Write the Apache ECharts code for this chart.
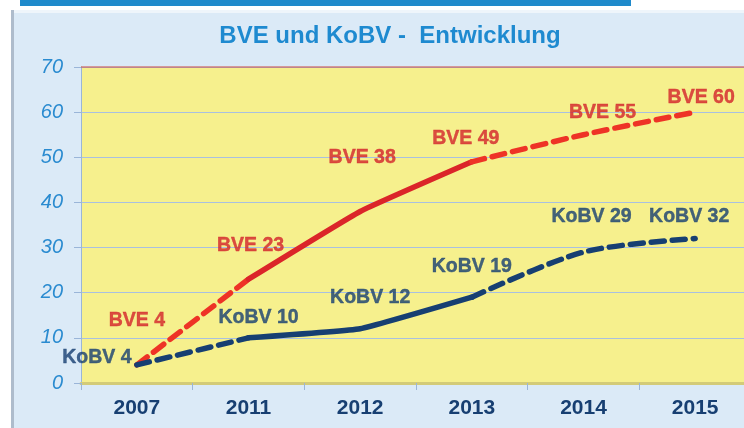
<!DOCTYPE html>
<html>
<head>
<meta charset="utf-8">
<script src="https://cdn.jsdelivr.net/npm/echarts@6/dist/echarts.min.js"></script>
<style>
  html, body { margin: 0; padding: 0; background: #ffffff; overflow: hidden; }
  #chart { width: 751px; height: 428px; }
</style>
</head>
<body>
<div id="chart"></div>
<script>
const years = ['2007', '2011', '2012', '2013', '2014', '2015']
const bveValues = [4, 23, 38, 49, 55, 60]
const kobvValues = [4, 10, 12, 19, 29, 32]
const yTicks = [0, 10, 20, 30, 40, 50, 60, 70]

// where each line is solid (index range), rest is dashed
const solidFrom = 1
const solidTo = 3

// label offsets (style only)
const bveLabelOffsets = [[0, -44], [2, -34], [2, -54], [-6, -23], [19, -22], [6, -15]]
const kobvLabelOffsets = [[-40, -7], [10, -20], [10, -31], [0, -31], [8, -35], [-6, -22]]

const red = '#db2529'
const redDash = '#ee3326'
const blue = '#173f72'

function part(values, from, to) {
  return values.map((v, i) => (i >= from && i <= to ? v : null))
}

function lineParts(name, values, color, dashColor) {
  const base = {
    type: 'line',
    name: name,
    symbol: 'none',
    connectNulls: false,
    z: 3
  }
  return [
    Object.assign({}, base, {
      data: part(values, 0, solidFrom),
      smooth: 0.15,
      lineStyle: { color: dashColor, width: 5.5, type: [13, 8], cap: 'round' }
    }),
    Object.assign({}, base, {
      data: part(values, solidFrom, solidTo),
      smooth: 0.1,
      lineStyle: { color: color, width: 5.5, type: 'solid', cap: 'round', join: 'round' }
    }),
    Object.assign({}, base, {
      data: part(values, solidTo, values.length - 1),
      smooth: 0.3,
      lineStyle: { color: dashColor, width: 5.5, type: [13, 8], cap: 'round' }
    })
  ]
}

function labelSeries(prefix, values, offsets, color) {
  return {
    type: 'scatter',
    symbolSize: 1,
    itemStyle: { color: 'transparent' },
    z: 5,
    data: values.map((v, i) => ({
      value: v,
      label: { offset: offsets[i] }
    })),
    label: {
      show: true,
      position: 'inside',
      align: 'center',
      verticalAlign: 'middle',
      formatter: p => prefix + ' ' + p.value,
      color: color,
      fontFamily: 'Liberation Sans',
      fontWeight: 'bold',
      fontSize: 19.5,
      textBorderColor: color,
      textBorderWidth: 0.4
    }
  }
}

const chart = echarts.init(document.getElementById('chart'))
chart.setOption({
  animation: false,
  backgroundColor: '#ffffff',
  graphic: [
    { type: 'rect', shape: { x: 11, y: 10, width: 745, height: 430 }, style: { fill: '#dbeaf7' }, z: -10 },
    { type: 'rect', shape: { x: 11, y: 10, width: 3, height: 430 }, style: { fill: '#aebccc' }, z: -9 },
    { type: 'rect', shape: { x: 14, y: 10, width: 740, height: 3 }, style: { fill: '#eef5fb' }, z: -9 },
    { type: 'rect', shape: { x: 20, y: 0, width: 611, height: 6 }, style: { fill: '#1f8acb' }, z: -9 },
    { type: 'line', shape: { x1: 81, y1: 67, x2: 751, y2: 67 }, style: { stroke: '#cf4a3c', lineWidth: 1 }, z: 2 }
  ],
  title: {
    text: 'BVE und KoBV -  Entwicklung',
    left: 385,
    top: 19,
    textAlign: 'center',
    textStyle: {
      color: '#1e8ad0',
      fontFamily: 'Liberation Sans',
      fontWeight: 'bold',
      fontSize: 24
    }
  },
  grid: {
    left: 81,
    top: 67,
    right: 0,
    bottom: 45,
    show: true,
    backgroundColor: '#f6f08d',
    borderWidth: 0
  },
  xAxis: {
    type: 'category',
    data: years,
    boundaryGap: true,
    axisLine: { show: true, lineStyle: { color: '#d3cb78', width: 3 } },
    axisTick: { show: true, length: 7, alignWithLabel: false, lineStyle: { color: '#9ab5d8' } },
    axisLabel: {
      margin: 15,
      color: '#173f72',
      fontFamily: 'Liberation Sans',
      fontWeight: 'bold',
      fontSize: 21
    }
  },
  yAxis: {
    type: 'value',
    min: yTicks[0],
    max: yTicks[yTicks.length - 1],
    interval: 10,
    axisLine: { show: true, lineStyle: { color: '#9ab5d8', width: 1 } },
    axisTick: { show: true, length: 7, lineStyle: { color: '#9ab5d8' } },
    splitLine: { show: true, lineStyle: { color: '#a9c0e0', width: 1 } },
    axisLabel: {
      margin: 18,
      color: '#2a8bd0',
      fontFamily: 'Liberation Sans',
      fontStyle: 'italic',
      fontSize: 20
    }
  },
  series: [
    ...lineParts('BVE', bveValues, red, redDash),
    ...lineParts('KoBV', kobvValues, blue, blue),
    labelSeries('BVE', bveValues, bveLabelOffsets, '#d3232a'),
    labelSeries('KoBV', kobvValues, kobvLabelOffsets, '#173f72')
  ]
})
</script>
</body>
</html>
